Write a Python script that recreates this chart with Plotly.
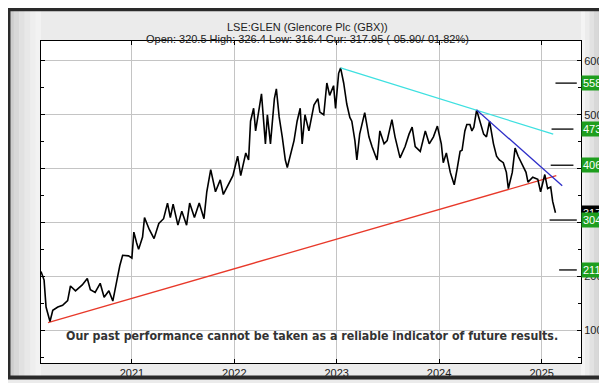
import plotly.graph_objects as go

# ---------------- data ----------------
dates = [
    "2020-02-12", "2020-02-23", "2020-03-01", "2020-03-15", "2020-03-25", "2020-04-12",
    "2020-04-29", "2020-05-17", "2020-05-27", "2020-06-14", "2020-07-08", "2020-07-26",
    "2020-08-06", "2020-08-23", "2020-09-10", "2020-09-24", "2020-10-11", "2020-10-25",
    "2020-11-08", "2020-11-19", "2020-11-29", "2020-12-20",
    "2021-01-01", "2021-01-08", "2021-01-18", "2021-01-25", "2021-02-08", "2021-02-15",
    "2021-03-04", "2021-03-21", "2021-04-07", "2021-04-24", "2021-05-08", "2021-05-18",
    "2021-05-28", "2021-06-14", "2021-06-28", "2021-07-15", "2021-07-26", "2021-08-12",
    "2021-08-29", "2021-09-15", "2021-09-25", "2021-10-09", "2021-10-26", "2021-11-12",
    "2021-11-23", "2021-12-10", "2021-12-27",
    "2022-01-13", "2022-01-24", "2022-02-11", "2022-02-21", "2022-02-28", "2022-03-11",
    "2022-03-18", "2022-04-01", "2022-04-08", "2022-04-22", "2022-04-29", "2022-05-10",
    "2022-05-24", "2022-05-31", "2022-06-10", "2022-06-21", "2022-07-02", "2022-07-09",
    "2022-07-19", "2022-08-02", "2022-08-13", "2022-08-24", "2022-08-31", "2022-09-10",
    "2022-09-24", "2022-10-12", "2022-10-26", "2022-11-02", "2022-11-16", "2022-11-27",
    "2022-12-07", "2022-12-21", "2022-12-28",
    "2023-01-08", "2023-01-15", "2023-01-26", "2023-02-06", "2023-02-17", "2023-02-24",
    "2023-03-07", "2023-03-14", "2023-03-24", "2023-04-11", "2023-04-26", "2023-05-07",
    "2023-05-25", "2023-06-04", "2023-06-19", "2023-06-30", "2023-07-17", "2023-07-28",
    "2023-08-15", "2023-09-02", "2023-09-16", "2023-09-27", "2023-10-08", "2023-10-26",
    "2023-11-13", "2023-11-27", "2023-12-12", "2023-12-26",
    "2024-01-09", "2024-01-16", "2024-01-27", "2024-02-10", "2024-02-24", "2024-03-05",
    "2024-03-16", "2024-03-23", "2024-04-02", "2024-04-09", "2024-04-20", "2024-04-27",
    "2024-05-04", "2024-05-14", "2024-05-25", "2024-06-08", "2024-06-18", "2024-06-29",
    "2024-07-13", "2024-07-24", "2024-08-03", "2024-08-17", "2024-08-28", "2024-09-04",
    "2024-09-18", "2024-09-28", "2024-10-09", "2024-10-23", "2024-11-06", "2024-11-13",
    "2024-11-30", "2024-12-18", "2024-12-28",
    "2025-01-12", "2025-01-22", "2025-02-02", "2025-02-09", "2025-02-19",
]
prices = [
    209, 193, 143, 116, 137, 143,
    146, 155, 182, 173, 184, 196,
    175, 170, 187, 161, 173, 154,
    191, 220, 239, 238,
    234, 282, 262, 250, 273, 309,
    287, 270, 298, 307, 336, 309,
    334, 295, 321, 295, 336, 309,
    336, 307, 357, 398, 357, 379,
    352, 371, 387,
    423, 387, 429, 416, 488, 512,
    470, 518, 539, 446, 500, 446,
    530, 548, 496, 459, 416, 402,
    423, 452, 488, 512, 446, 500,
    470, 518, 530, 505, 500, 559,
    536, 554, 512,
    577, 587, 559, 520, 495, 488,
    452, 416, 464, 504, 459, 441,
    416, 470, 446, 452, 491, 459,
    420, 441, 464, 477, 441, 432,
    470, 446, 459, 479,
    446, 411, 429, 393, 370, 398,
    432, 434, 470, 482, 482, 470,
    477, 509, 488, 464, 459, 488,
    446, 423, 416, 411, 393, 363,
    393, 438, 423, 407, 393, 375,
    384, 380, 357,
    389, 363, 366, 339, 318,
]

# trend lines: (start date, end date), (start value, end value)
red_line = (["2020-03-08", "2025-02-22"], [114, 387])
cyan_line = (["2023-01-15", "2025-02-11"], [587, 464])
blue_line = (["2024-05-14", "2025-03-15"], [509, 368])

# target levels with their short marker segments
target_values = [558.8, 473.4, 406.3, 304.5, 211.8]
target_labels = ["558.8", "473.4", "406.3", "304.5", "211.8"]
target_start = ["2025-02-19", "2025-02-05", "2025-02-02", "2025-01-29", "2025-03-04"]
target_end = ["2025-05-06", "2025-04-24", "2025-04-24", "2025-05-06", "2025-05-06"]

current_price = 317.95
current_label = "317.95"

title_1 = "LSE:GLEN (Glencore Plc (GBX))"
title_2 = "Open: 320.5 High: 326.4 Low: 316.4 Cur: 317.95 (-05.90/-01.82%)"
disclaimer = "Our past performance cannot be taken as a reliable indicator of future results."

y_ticks = [100, 200, 300, 400, 500, 600]
x_range = ["2020-02-12", "2025-05-21"]
y_range = [39, 637]

# ---------------- figure ----------------
W, H = 607, 383
ML, MR, MT, MB = 33, 26, 33, 15
PW, PH = W - ML - MR, H - MT - MB


def px_x(p):
    return (p - ML) / PW


def px_y(p):
    return (H - MB - p) / PH


fig = go.Figure()

fig.add_trace(go.Scatter(x=red_line[0], y=red_line[1], mode="lines",
                         line=dict(color="#e8392a", width=1.3), hoverinfo="skip"))
fig.add_trace(go.Scatter(x=dates, y=prices, mode="lines",
                         line=dict(color="#000000", width=1.6), hoverinfo="skip"))
fig.add_trace(go.Scatter(x=cyan_line[0], y=cyan_line[1], mode="lines",
                         line=dict(color="#3ee0e0", width=1.3), hoverinfo="skip"))
fig.add_trace(go.Scatter(x=blue_line[0], y=blue_line[1], mode="lines",
                         line=dict(color="#2e2ec8", width=1.3), hoverinfo="skip"))

shapes = []
# bevel-like gradient bands in the margins
left_cols = ["#cdcdcd", "#d8d8d8", "#e1e1e1", "#e8e8e8", "#eeeeee", "#f2f2f2"]
for i, c in enumerate(left_cols):
    shapes.append(dict(type="rect", xref="paper", yref="paper", layer="below",
                       x0=px_x(i * 5.5), x1=px_x((i + 1) * 5.5), y0=px_y(H), y1=px_y(0),
                       line=dict(width=0), fillcolor=c))
right_cols = ["#f4f4f4", "#ececec", "#e2e2e2", "#d8d8d8", "#cecece", "#c4c4c4"]
for i, c in enumerate(right_cols):
    shapes.append(dict(type="rect", xref="paper", yref="paper", layer="below",
                       x0=px_x(581 + i * 4.4), x1=px_x(581 + (i + 1) * 4.4), y0=px_y(H), y1=px_y(0),
                       line=dict(width=0), fillcolor=c))
for v, s, e in zip(target_values, target_start, target_end):
    shapes.append(dict(type="line", xref="x", yref="y", x0=s, x1=e, y0=v, y1=v,
                       line=dict(color="#000000", width=1.3)))
# outer frame
shapes.append(dict(type="rect", xref="paper", yref="paper",
                   x0=px_x(0), x1=px_x(W), y0=px_y(H), y1=px_y(0),
                   line=dict(color="#2a2a2a", width=4), layer="above"))

font_main = "Liberation Sans, Arial, sans-serif"
annotations = [
    dict(text=title_1, xref="paper", yref="paper", x=px_x(W / 2), y=px_y(10),
         showarrow=False, font=dict(family=font_main, size=11, color="#222")),
    dict(text=title_2, xref="paper", yref="paper", x=px_x(W / 2), y=px_y(23),
         showarrow=False, font=dict(family=font_main, size=11, color="#222")),
    dict(text="<b>" + disclaimer + "</b>", xref="paper", yref="paper", x=px_x(308),
         y=px_y(349), showarrow=False,
         font=dict(family="DejaVu Sans Condensed, Liberation Sans Narrow, sans-serif",
                   size=12.3, color="#333")),
    dict(text=current_label, xref="paper", yref="y", x=1, y=current_price, xanchor="left",
         showarrow=False, bgcolor="#000000", borderpad=1,
         font=dict(family=font_main, size=11, color="#ffffff")),
]
for v, lab in zip(target_values, target_labels):
    annotations.append(dict(text=lab, xref="paper", yref="y", x=1, y=v, xanchor="left",
                            showarrow=False, bgcolor="#1e9e1e", borderpad=1,
                            font=dict(family=font_main, size=11, color="#ffffff")))

fig.update_layout(
    width=W, height=H,
    margin=dict(l=ML, r=MR, t=MT, b=MB, pad=0),
    paper_bgcolor="#ebebeb",
    plot_bgcolor="#ffffff",
    showlegend=False,
    shapes=shapes,
    annotations=annotations,
    xaxis=dict(
        type="date", range=x_range, dtick="M12", tick0="2021-01-01", tickformat="%Y",
        showgrid=True, gridcolor="#c4c4c4", gridwidth=1,
        ticks="inside", ticklen=4, tickcolor="#000", showline=True, linecolor="#000",
        linewidth=1, mirror="ticks", zeroline=False,
        tickfont=dict(family=font_main, size=11, color="#222"),
    ),
    yaxis=dict(
        range=y_range, tickvals=y_ticks, side="right",
        showgrid=True, gridcolor="#c4c4c4", gridwidth=1,
        ticks="inside", ticklen=4, tickcolor="#000", showline=True, linecolor="#000",
        linewidth=1, mirror="ticks", zeroline=False,
        minor=dict(dtick=50, tick0=0, ticks="inside", ticklen=3, tickcolor="#000", showgrid=False),
        tickfont=dict(family=font_main, size=11, color="#222"),
    ),
)

fig.write_html("out.html")
